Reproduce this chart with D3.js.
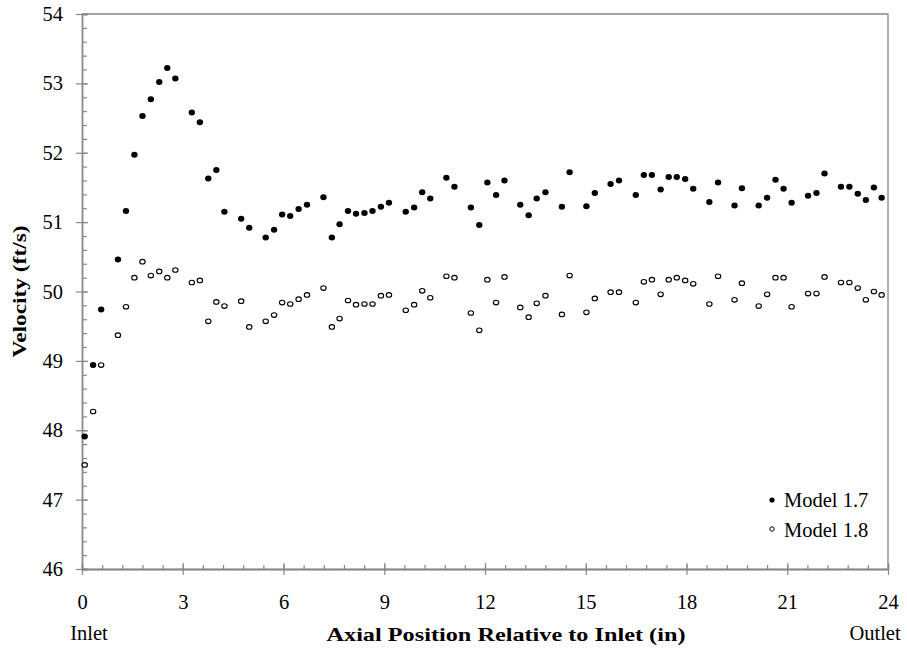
<!DOCTYPE html>
<html>
<head>
<meta charset="utf-8">
<script src="https://cdn.jsdelivr.net/npm/d3@7"></script>
<style>
  html, body { margin: 0; padding: 0; background: #fff; }
  svg { display: block; }
  text { font-family: "Liberation Serif", "Times New Roman", serif; fill: #000; }
</style>
</head>
<body>
<svg id="chart" width="907" height="651"></svg>
<script>
// Axial sample positions (in), shared by both models
const positions = [
  0.08, 0.33, 0.57, 1.07, 1.31, 1.56, 1.80, 2.05, 2.30, 2.54,
  2.78, 3.27, 3.51, 3.76, 4.00, 4.24, 4.74, 4.98, 5.47, 5.72,
  5.96, 6.20, 6.45, 6.70, 7.19, 7.44, 7.67, 7.92, 8.16, 8.41,
  8.65, 8.90, 9.14, 9.64, 9.89, 10.13, 10.37, 10.85, 11.09, 11.58,
  11.83, 12.07, 12.33, 12.58, 13.05, 13.30, 13.54, 13.80, 14.29, 14.52,
  15.02, 15.27, 15.74, 15.99, 16.49, 16.73, 16.97, 17.23, 17.47, 17.71,
  17.96, 18.20, 18.68, 18.94, 19.43, 19.65, 20.15, 20.40, 20.65, 20.89,
  21.13, 21.62, 21.87, 22.11, 22.60, 22.85, 23.10, 23.34, 23.58, 23.81
];

// Velocity (ft/s), Model 1.7
const model17 = [
  47.91, 48.94, 49.74, 50.46, 51.16, 51.97, 52.53, 52.77, 53.02, 53.22,
  53.07, 52.58, 52.44, 51.63, 51.75, 51.15, 51.05, 50.92, 50.78, 50.89,
  51.11, 51.09, 51.19, 51.25, 51.36, 50.78, 50.97, 51.16, 51.12, 51.13,
  51.16, 51.22, 51.28, 51.15, 51.21, 51.43, 51.34, 51.64, 51.51, 51.21,
  50.96, 51.57, 51.39, 51.60, 51.25, 51.10, 51.34, 51.43, 51.22, 51.72,
  51.23, 51.42, 51.55, 51.60, 51.39, 51.68, 51.68, 51.47, 51.65, 51.65,
  51.62, 51.48, 51.29, 51.57, 51.24, 51.49, 51.24, 51.35, 51.61, 51.48,
  51.28, 51.38, 51.42, 51.70, 51.51, 51.51, 51.41, 51.32, 51.50, 51.35
];

// Velocity (ft/s), Model 1.8
const model18 = [
  47.50, 48.27, 48.94, 49.37, 49.78, 50.20, 50.43, 50.23, 50.29, 50.20,
  50.31, 50.13, 50.16, 49.57, 49.85, 49.79, 49.86, 49.49, 49.57, 49.66,
  49.84, 49.82, 49.89, 49.95, 50.05, 49.49, 49.61, 49.87, 49.81, 49.82,
  49.82, 49.94, 49.95, 49.73, 49.81, 50.01, 49.91, 50.22, 50.20, 49.69,
  49.44, 50.17, 49.84, 50.21, 49.77, 49.63, 49.83, 49.94, 49.67, 50.23,
  49.70, 49.90, 49.99, 49.99, 49.84, 50.14, 50.17, 49.96, 50.17, 50.20,
  50.16, 50.11, 49.82, 50.22, 49.88, 50.12, 49.79, 49.96, 50.20, 50.20,
  49.78, 49.97, 49.97, 50.21, 50.13, 50.13, 50.05, 49.88, 50.00, 49.95
];

const xTicks = [0, 3, 6, 9, 12, 15, 18, 21, 24];
const yTicks = [46, 47, 48, 49, 50, 51, 52, 53, 54];
const seriesNames = ["Model 1.7", "Model 1.8"];

const svg = d3.select("#chart");
const plotLeft = 82, plotRight = 888, plotTop = 14, plotBottom = 569;
const axisColor = "#888888";
const fontSize = 20.5;
const titleSize = 19.5;

const x = d3.scaleLinear().domain([0, 24]).range([plotLeft, plotRight]);
const y = d3.scaleLinear().domain([46, 54]).range([plotBottom, plotTop]);

// frame: top and right edges
svg.append("path")
  .attr("d", `M${plotLeft},${plotTop}H${plotRight}V${plotBottom}`)
  .attr("fill", "none").attr("stroke", axisColor).attr("stroke-width", 1.3);

function styleAxis(g) {
  g.select(".domain").attr("stroke", axisColor).attr("stroke-width", 1.3);
  g.selectAll(".tick line").attr("stroke", axisColor).attr("stroke-width", 1.2);
  g.selectAll(".tick text")
    .style("font-family", '"Liberation Serif", "Times New Roman", serif')
    .style("font-size", fontSize + "px").attr("fill", "#000");
}

// x axis: minor ticks inward, major ticks crossing
const xMinor = d3.range(0, 24.001, 0.6);
svg.append("g").attr("transform", `translate(0,${plotBottom})`)
  .call(d3.axisTop(x).tickValues(xMinor).tickSize(4).tickFormat(""))
  .call(styleAxis);
svg.append("g").attr("transform", `translate(0,${plotBottom})`)
  .call(d3.axisTop(x).tickValues(xTicks).tickSize(6).tickFormat(""))
  .call(styleAxis);
svg.append("g").attr("transform", `translate(0,${plotBottom})`)
  .call(d3.axisBottom(x).tickValues(xTicks).tickSizeInner(6).tickSizeOuter(0)
    .tickPadding(19).tickFormat(d3.format("d")))
  .call(styleAxis);

// y axis: minor ticks inward, major ticks crossing
const yMinor = d3.range(46, 54.001, 0.2);
svg.append("g").attr("transform", `translate(${plotLeft},0)`)
  .call(d3.axisRight(y).tickValues(yMinor).tickSize(5).tickFormat(""))
  .call(styleAxis);
svg.append("g").attr("transform", `translate(${plotLeft},0)`)
  .call(d3.axisRight(y).tickValues(yTicks).tickSize(6).tickFormat(""))
  .call(styleAxis);
svg.append("g").attr("transform", `translate(${plotLeft},0)`)
  .call(d3.axisLeft(y).tickValues(yTicks).tickSizeInner(6).tickSizeOuter(0)
    .tickPadding(13).tickFormat(d3.format("d")))
  .call(styleAxis);

// end labels under the x axis
svg.append("text").attr("x", x(0) + 7).attr("y", 640)
  .attr("text-anchor", "middle").style("font-size", fontSize + "px").text("Inlet");
svg.append("text").attr("x", x(24) - 13).attr("y", 640)
  .attr("text-anchor", "middle").style("font-size", fontSize + "px").text("Outlet");

// axis titles
svg.append("text").attr("x", 506).attr("y", 641)
  .attr("text-anchor", "middle").style("font-size", titleSize + "px")
  .attr("textLength", 359).attr("lengthAdjust", "spacingAndGlyphs")
  .style("font-weight", "bold").text("Axial Position Relative to Inlet (in)");
svg.append("text")
  .attr("transform", `translate(19,${(plotTop + plotBottom) / 2}) rotate(-90)`)
  .attr("text-anchor", "middle").attr("dy", "0.35em")
  .attr("textLength", 132).attr("lengthAdjust", "spacingAndGlyphs")
  .style("font-size", titleSize + "px").style("font-weight", "bold")
  .text("Velocity (ft/s)");

// data points
const pts17 = positions.map((p, i) => ({ p, v: model17[i] }));
const pts18 = positions.map((p, i) => ({ p, v: model18[i] }));

svg.append("g").selectAll("ellipse").data(pts18).join("ellipse")
  .attr("cx", d => x(d.p)).attr("cy", d => y(d.v))
  .attr("rx", 2.7).attr("ry", 2.3)
  .attr("fill", "#fff").attr("stroke", "#000").attr("stroke-width", 1.1);

svg.append("g").selectAll("ellipse").data(pts17).join("ellipse")
  .attr("cx", d => x(d.p)).attr("cy", d => y(d.v))
  .attr("rx", 3.2).attr("ry", 3)
  .attr("fill", "#000");

// legend
const legend = svg.append("g");
legend.append("circle").attr("cx", 772).attr("cy", 500).attr("r", 2.6).attr("fill", "#000");
legend.append("text").attr("x", 784).attr("y", 507).style("font-size", fontSize + "px").text(seriesNames[0]);
legend.append("circle").attr("cx", 772).attr("cy", 529).attr("r", 2.2)
  .attr("fill", "#fff").attr("stroke", "#000").attr("stroke-width", 1);
legend.append("text").attr("x", 784).attr("y", 537).style("font-size", fontSize + "px").text(seriesNames[1]);
</script>
</body>
</html>
